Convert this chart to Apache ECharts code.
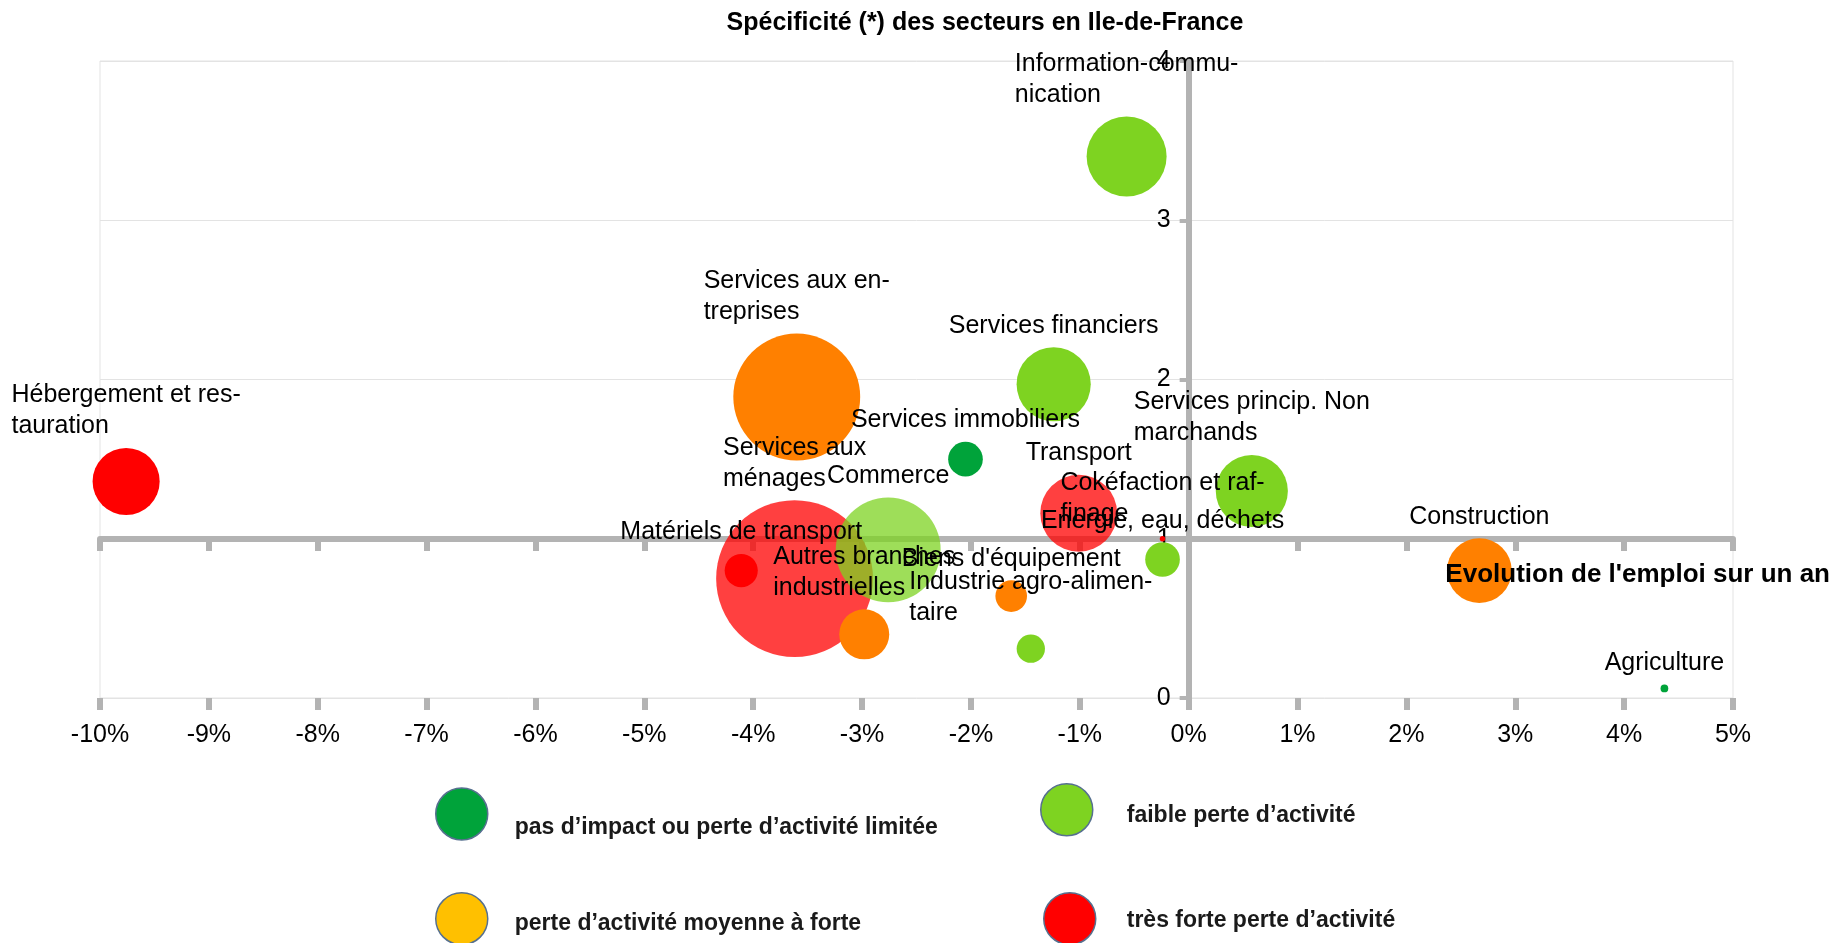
<!DOCTYPE html>
<html>
<head>
<meta charset="utf-8">
<title>Spécificité des secteurs en Ile-de-France</title>
<script src="https://cdn.jsdelivr.net/npm/echarts@6/dist/echarts.min.js"></script>
<style>
  html, body { margin: 0; padding: 0; background: #fff; }
  #chart { width: 1845px; height: 943px; }
</style>
</head>
<body>
<div id="chart"></div>
<script>
// libellés tels qu'ils sont coupés sur le graphique d'origine
const secteurs = [
  'Information-commu-\nnication',
  'Services aux en-\ntreprises',
  'Services financiers',
  'Hébergement et res-\ntauration',
  'Services immobiliers',
  'Services princip. Non\nmarchands',
  'Services aux\nménages',
  'Commerce',
  'Transport',
  'Cokéfaction et raf-\nfinage',
  'Energie, eau, déchets',
  'Matériels de transport',
  'Autres branches\nindustrielles',
  "Biens d'équipement",
  'Industrie agro-alimen-\ntaire',
  'Construction',
  'Agriculture'
];
const evolutionEmploi = [-0.57, -3.60, -1.24, -9.76, -2.05, 0.58, -3.62, -2.76, -1.01, -0.24, -0.24, -4.11, -2.98, -1.63, -1.45, 2.67, 4.37]; // en %
const specificite = [3.40, 1.89, 1.97, 1.36, 1.50, 1.30, 0.75, 0.93, 1.16, 1.00, 0.87, 0.80, 0.40, 0.64, 0.31, 0.80, 0.06];
const poids = [64, 161, 55, 45, 12, 52, 246, 110, 59, 0.3, 12, 11, 25, 10, 8, 42, 0.6]; // taille relative des bulles
const impact = [1, 2, 1, 3, 0, 1, 3, 1, 3, 3, 1, 3, 2, 2, 1, 2, 0]; // indice dans categoriesImpact
const categoriesImpact = [
  'pas d’impact ou perte d’activité limitée',
  'faible perte d’activité',
  'perte d’activité moyenne à forte',
  'très forte perte d’activité'
];

const FONT = "'Liberation Sans', Arial, sans-serif";
const couleursBulles = ['#00a33a', '#7ed321', '#ff8000', '#ff0000'];
const couleursLegende = ['#00a33a', '#7ed321', '#ffc000', '#ff0000'];
const translucides = ['Services aux\nménages', 'Commerce', 'Transport'];
const ordreDessin = [3, 1, 2, 0]; // rouge sous le vert clair, etc.

// grille : x de 100 à 1733 px, donc 0 % à 100 + 10 * 1633 / 15
const GRID_LEFT = 100, GRID_RIGHT = 112;
const zeroX = 10 * (1845 - GRID_LEFT - GRID_RIGHT) / 15;

// pastilles de légende : [left, top, décalage vertical du texte, écart icône-texte]
const legendePos = [
  [435, 786, 14, 22],
  [1040, 783, 6, 29],
  [435, 892, 5, 22],
  [1043, 892, 2, 26]
];

const chart = echarts.init(document.getElementById('chart'));

const series = ordreDessin.map(cat => ({
  name: categoriesImpact[cat],
  type: 'scatter',
  data: secteurs
    .map((s, i) => ({
      name: s,
      value: [evolutionEmploi[i], specificite[i], poids[i]],
      cat: impact[i],
      itemStyle: translucides.includes(s)
        ? { color: echarts.color.modifyAlpha(couleursBulles[impact[i]], 0.75) }
        : undefined
    }))
    .filter(d => d.cat === cat),
  symbolSize: v => 10 * Math.sqrt(v[2]),
  itemStyle: { color: couleursBulles[cat], opacity: 1 },
  label: {
    show: true,
    position: 'top',
    distance: 6,
    formatter: p => p.name.split('\n').map(l => '{t|' + l + '}').join('\n'),
    rich: {
      t: { fontFamily: FONT, fontSize: 25, lineHeight: 31, color: '#000', align: 'left' }
    }
  },
  emphasis: { disabled: true }
}));

// le texte de légende est un peu plus bas que la pastille : ligne vide en tête
const legends = categoriesImpact.map((c, i) => ({
  data: [{
    name: c,
    itemStyle: { color: couleursLegende[i], borderColor: '#56708f', borderWidth: 1.5 }
  }],
  left: legendePos[i][0],
  top: legendePos[i][1],
  padding: 0,
  icon: 'circle',
  itemWidth: 52,
  itemHeight: 52,
  selectedMode: false,
  formatter: name => '\n' + name,
  textStyle: {
    fontFamily: FONT,
    fontSize: 23,
    fontWeight: 'bold',
    color: '#1a1a1a',
    lineHeight: 2 * legendePos[i][2],
    padding: [0, 0, 0, legendePos[i][3]]
  }
}));

const option = {
  animation: false,
  backgroundColor: '#fff',
  title: [
    {
      text: 'Spécificité (*) des secteurs en Ile-de-France',
      left: 985,
      top: 11,
      textAlign: 'center',
      padding: 0,
      textStyle: { fontFamily: FONT, fontSize: 25, fontWeight: 'bold', color: '#000' }
    },
    {
      text: "Evolution de l'emploi sur un an",
      right: 15,
      top: 562,
      padding: 0,
      textStyle: { fontFamily: FONT, fontSize: 26, fontWeight: 'bold', color: '#000' }
    }
  ],
  legend: legends,
  grid: {
    left: GRID_LEFT,
    right: GRID_RIGHT,
    top: 61,
    bottom: 245,
    show: true,
    borderColor: '#e3e3e3',
    borderWidth: 1,
    containLabel: false,
    outerBoundsMode: 'none'
  },
  xAxis: [
    {
      type: 'value',
      min: -10,
      max: 5,
      interval: 1,
      position: 'bottom',
      axisLine: { show: false, onZero: false },
      axisTick: { show: true, length: 12, lineStyle: { color: '#b3b3b3', width: 6 } },
      axisLabel: { formatter: '{value}%', fontFamily: FONT, fontSize: 25, color: '#000', margin: 25 },
      splitLine: { show: false }
    },
    {
      // axe de croisement à y = 1
      type: 'value',
      min: -10,
      max: 5,
      interval: 1,
      position: 'bottom',
      offset: -159,
      axisLine: { show: true, onZero: false, lineStyle: { color: '#b3b3b3', width: 6 } },
      axisTick: { show: true, length: 12, lineStyle: { color: '#b3b3b3', width: 6 } },
      axisLabel: { show: false },
      splitLine: { show: false }
    }
  ],
  yAxis: {
    type: 'value',
    min: 0,
    max: 4,
    interval: 1,
    position: 'left',
    offset: -zeroX, // axe vertical placé sur 0 %
    axisLine: { show: true, onZero: false, lineStyle: { color: '#b3b3b3', width: 6 } },
    axisTick: { show: true, length: 9, lineStyle: { color: '#b3b3b3', width: 4 } },
    axisLabel: { fontFamily: FONT, fontSize: 25, color: '#000', margin: 18 },
    splitLine: { show: true, lineStyle: { color: '#e3e3e3', width: 1 } }
  },
  series: series
};

chart.setOption(option);
</script>
</body>
</html>
